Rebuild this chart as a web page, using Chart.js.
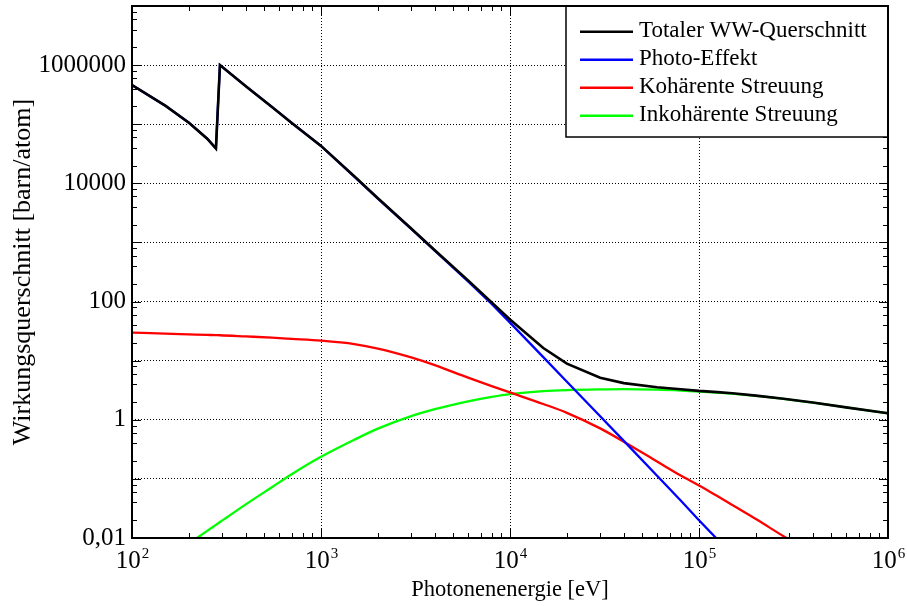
<!DOCTYPE html>
<html><head><meta charset="utf-8">
<script src="https://cdn.jsdelivr.net/npm/chart.js@4.4.0/dist/chart.umd.min.js"></script>
<style>html,body{margin:0;padding:0;background:#fff;}</style>
</head><body>
<canvas id="c" width="907" height="606"></canvas>
<script>
// Photon energy grid [eV]
const energy = [100, 150, 200, 250, 278, 292, 400, 550, 700, 1000, 1500, 2000, 3000, 4000, 6000, 8000,
  10000, 15000, 20000, 30000, 40000, 60000, 80000, 100000, 125000, 150000, 200000, 280000, 400000, 600000, 1000000];
// Cross sections [barn/atom]
const totalCS = [4.6e5, 2.06e5, 1.06e5, 5.7e4, 3.9e4, 1.0e6, 4.4e5, 1.96e5, 1.05e5, 4.3e4, 1.32e4, 5.6e3, 1.72e3, 740, 228, 97,
  49.6, 16.4, 8.9, 5.13, 4.17, 3.54, 3.28, 3.08, 2.94, 2.81, 2.56, 2.27, 1.955, 1.62, 1.29];
const photoCS = [4.6e5, 2.06e5, 1.06e5, 5.7e4, 3.9e4, 1.0e6, 4.4e5, 1.96e5, 1.05e5, 4.3e4, 1.3e4, 5.5e3, 1.7e3, 725, 220, 91,
  44, 11.5, 4.4, 1.15, 0.44, 0.113, 0.043, 0.02, 0.0095, null, null, null, null, null, null];
const coherentCS = [29.8, 28.7, 27.9, 27.3, 27.0, 26.9, 25.7, 24.5, 23.4, 21.8, 19.05, 16.0, 11.35, 8.4, 5.16, 3.71,
  2.90, 1.85, 1.31, 0.715, 0.426, 0.197, 0.114, 0.0776, 0.0513, 0.0363, 0.0209, 0.0107, 0.0054, null, null];
const incoherentCS = [null, null, 0.0081, 0.0132, 0.0167, 0.0186, 0.0371, 0.0724, 0.120, 0.236, 0.459, 0.708, 1.15, 1.51, 2.05, 2.44,
  2.72, 3.05, 3.18, 3.27, 3.30, 3.23, 3.12, 3.01, 2.88, 2.77, 2.54, 2.26, 1.95, 1.62, 1.29];

const seriesLabels = ['Totaler WW-Querschnitt', 'Photo-Effekt', 'Kohärente Streuung', 'Inkohärente Streuung'];
const seriesColors = ['#000000', '#0000ff', '#ff0000', '#00ff00'];
const seriesValues = [totalCS, photoCS, coherentCS, incoherentCS];
const seriesSmooth = [false, false, true, true];

const yTickValues = [0.01, 1, 100, 10000, 1000000];
const yTickLabels = ['0,01', '1', '100', '10000', '1000000'];
const xTickValues = [100, 1000, 10000, 100000, 1000000];
const xTickExponents = ['2', '3', '4', '5', '6'];
const xTitle = 'Photonenenergie [eV]';
const yTitle = 'Wirkungsquerschnitt [barn/atom]';

const SERIF = '"Liberation Serif", "Times New Roman", serif';
Chart.defaults.font.family = SERIF;

const decades = (lo, hi) => { const r = []; for (let e = lo; e <= hi; e++) r.push({value: Math.pow(10, e)}); return r; };

const deco = {
  id: 'deco',
  afterDraw(chart) {
    const {ctx, chartArea: a, scales: {x, y}} = chart;
    ctx.save();
    // minor and major ticks (inside, mirrored)
    ctx.strokeStyle = '#000';
    ctx.lineWidth = 1;
    ctx.beginPath();
    for (let e = 2; e < 6; e++) {
      for (let m = 1; m <= 9; m++) {
        const len = m === 1 ? 9 : 5;
        const px = Math.round(x.getPixelForValue(m * Math.pow(10, e))) + 0.5;
        ctx.moveTo(px, a.bottom); ctx.lineTo(px, a.bottom - len);
        ctx.moveTo(px, a.top); ctx.lineTo(px, a.top + len);
      }
    }
    for (let e = -2; e < 7; e++) {
      for (const m of [1, 2, 4, 6, 8]) {
        const len = m === 1 ? 9 : 5;
        const py = Math.round(y.getPixelForValue(m * Math.pow(10, e))) + 0.5;
        ctx.moveTo(a.left, py); ctx.lineTo(a.left + len, py);
        ctx.moveTo(a.right, py); ctx.lineTo(a.right - len, py);
      }
    }
    ctx.stroke();

    // y tick labels
    ctx.fillStyle = '#000';
    ctx.font = '25px ' + SERIF;
    ctx.textAlign = 'right';
    ctx.textBaseline = 'middle';
    yTickValues.forEach((v, i) => ctx.fillText(yTickLabels[i], a.left - 6, y.getPixelForValue(v)));

    // x tick labels with superscript exponents
    ctx.textBaseline = 'alphabetic';
    ctx.textAlign = 'left';
    xTickValues.forEach((v, i) => {
      const px = x.getPixelForValue(v);
      ctx.font = '25px ' + SERIF;
      const w1 = ctx.measureText('10').width;
      ctx.font = '15px ' + SERIF;
      const w2 = ctx.measureText(xTickExponents[i]).width;
      const x0 = px - (w1 + w2) / 2;
      ctx.font = '25px ' + SERIF;
      ctx.fillText('10', x0, a.bottom + 30);
      ctx.font = '15px ' + SERIF;
      ctx.fillText(xTickExponents[i], x0 + w1 + 1, a.bottom + 20);
    });

    // axis titles
    ctx.font = '22.5px ' + SERIF;
    ctx.textAlign = 'center';
    ctx.fillText(xTitle, (a.left + a.right) / 2, 596);
    ctx.save();
    ctx.translate(30, (a.top + a.bottom) / 2);
    ctx.rotate(-Math.PI / 2);
    ctx.font = '26px ' + SERIF;
    ctx.fillText(yTitle, 0, 0);
    ctx.restore();

    // legend box
    const bx = 566, by = a.top, bw = a.right - 566, bh = 131;
    ctx.fillStyle = '#fff';
    ctx.fillRect(bx, by, bw, bh);
    ctx.strokeStyle = '#000';
    ctx.lineWidth = 1.5;
    ctx.strokeRect(bx, by, bw, bh);
    ctx.font = '23px ' + SERIF;
    ctx.textAlign = 'left';
    seriesLabels.forEach((lab, i) => {
      const ly = 31.7 + i * 28;
      ctx.strokeStyle = seriesColors[i];
      ctx.lineWidth = 2.5;
      ctx.beginPath(); ctx.moveTo(580, ly); ctx.lineTo(633, ly); ctx.stroke();
      ctx.fillStyle = '#000';
      ctx.fillText(lab, 639, ly + 5);
    });

    // frame
    ctx.strokeStyle = '#000';
    ctx.lineWidth = 2;
    ctx.strokeRect(a.left, a.top, a.right - a.left, a.bottom - a.top);
    ctx.restore();
  }
};

new Chart(document.getElementById('c'), {
  type: 'line',
  data: {
    datasets: seriesValues.map((vals, i) => ({
      label: seriesLabels[i],
      data: energy.map((e, j) => ({x: e, y: vals[j]})),
      borderColor: seriesColors[i],
      backgroundColor: seriesColors[i],
      borderWidth: i === 0 ? 2.6 : 2.3,
      pointRadius: 0,
      tension: 0,
      cubicInterpolationMode: seriesSmooth[i] ? 'monotone' : 'default',
      fill: false,
      spanGaps: false
    }))
  },
  options: {
    responsive: false,
    animation: false,
    devicePixelRatio: 1,
    layout: {padding: {left: 132, right: 19, top: 6, bottom: 68}},
    plugins: {legend: {display: false}, tooltip: {enabled: false}},
    scales: {
      x: {
        type: 'logarithmic', min: 100, max: 1000000,
        afterBuildTicks: s => { s.ticks = decades(2, 6); },
        ticks: {display: false},
        grid: {color: '#000', lineWidth: 1, drawTicks: false},
        border: {display: false, dash: [1, 2]}
      },
      y: {
        type: 'logarithmic', min: 0.01, max: 1e7,
        afterBuildTicks: s => { s.ticks = decades(-2, 7); },
        ticks: {display: false},
        grid: {color: '#000', lineWidth: 1, drawTicks: false},
        border: {display: false, dash: [1, 2]}
      }
    }
  },
  plugins: [deco]
});
</script>
</body></html>
